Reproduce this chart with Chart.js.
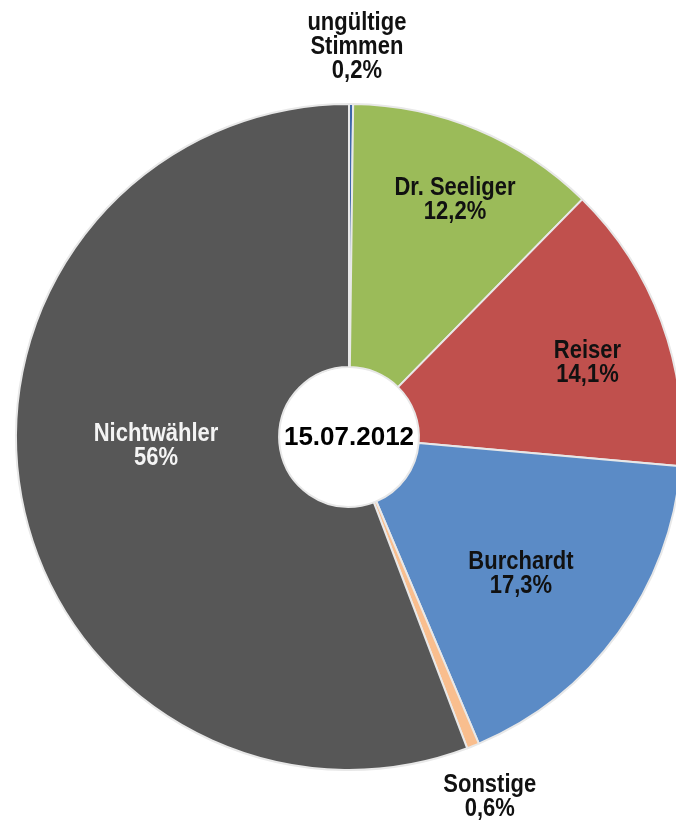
<!DOCTYPE html>
<html>
<head>
<meta charset="utf-8">
<script src="https://cdn.jsdelivr.net/npm/chart.js@4/dist/chart.umd.min.js"></script>
<style>
  html, body { margin: 0; padding: 0; background: #fff; overflow: hidden; }
  #wrap { width: 700px; height: 821px; }
</style>
</head>
<body>
<div id="wrap"><canvas id="pie" width="700" height="821"></canvas></div>
<script>
// Wahlergebnis 15.07.2012 (Anteile in %)
const categories = ["ungültige\nStimmen", "Dr. Seeliger", "Reiser", "Burchardt", "Sonstige", "Nichtwähler"];
const shares = [0.2, 12.2, 14.1, 17.3, 0.6, 56];
const sliceColors = ["#3c67a8", "#9bbb59", "#c0504d", "#5b8bc6", "#f9be8e", "#575757"];
const labelColors = ["#111", "#111", "#111", "#111", "#111", "#f4f4f4"];
const centerText = "15.07.2012";

// label placement: radius as factor of outer radius, angle nudge in degrees
const labelRadius = [1.17, 0.78, 0.75, 0.66, 1.16, 0.58];
const labelShift = [0.8, 1.5, 3, 2.5, 0.5, 7.7];

const fmt = v => String(v).replace(".", ",") + "%";

const sliceLabels = {
    id: "sliceLabels",
    afterDatasetsDraw(chart) {
        const ctx = chart.ctx;
        const arcs = chart.getDatasetMeta(0).data;
        ctx.save();
        ctx.font = "bold 22px 'Liberation Sans', Arial, sans-serif";
        ctx.textAlign = "center";
        ctx.textBaseline = "middle";
        arcs.forEach((arc, i) => {
            const mid = (arc.startAngle + arc.endAngle) / 2 + labelShift[i] * Math.PI / 180;
            const r = arc.outerRadius * labelRadius[i];
            const x = arc.x + Math.cos(mid) * r;
            const y = arc.y + Math.sin(mid) * r;
            const lines = categories[i].split("\n").concat(fmt(shares[i]));
            const lh = 24;
            ctx.fillStyle = labelColors[i];
            lines.forEach((t, k) => {
                // the original lettering is a little taller than wide
                ctx.save();
                ctx.translate(x, y + (k - (lines.length - 1) / 2) * lh);
                ctx.scale(1, 1.13);
                ctx.fillText(t, 0, 0);
                ctx.restore();
            });
        });
        // center date
        const a = arcs[0];
        ctx.fillStyle = "#000";
        ctx.font = "bold 26px 'Liberation Sans', Arial, sans-serif";
        ctx.fillText(centerText, a.x, a.y + 1);
        ctx.restore();
    }
};

new Chart(document.getElementById("pie").getContext("2d"), {
    type: "doughnut",
    data: {
        labels: categories,
        datasets: [{
            data: shares,
            backgroundColor: sliceColors,
            borderColor: "#e8e8e8",
            borderWidth: 2
        }]
    },
    options: {
        responsive: false,
        animation: false,
        devicePixelRatio: 1,
        cutout: "21%",
        layout: { padding: { top: 103, bottom: 50, left: 15, right: 17 } },
        plugins: {
            legend: { display: false },
            tooltip: { enabled: false }
        }
    },
    plugins: [sliceLabels]
});
</script>
</body>
</html>
